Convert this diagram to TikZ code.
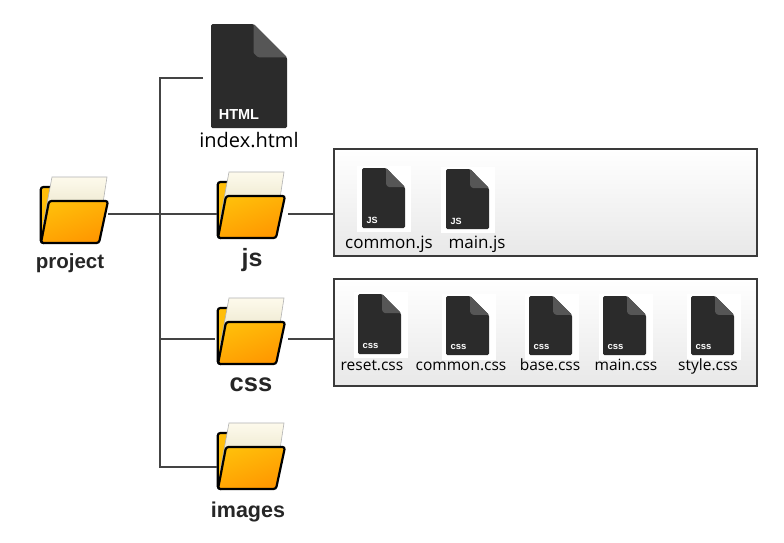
\documentclass[tikz,border=0pt]{standalone}
\usepackage{fontspec}
\setmainfont{Liberation Sans}
\newfontfamily\labelfont{Open Sans}
\definecolor{iconA}{HTML}{2B2B2B}
\definecolor{iconB}{HTML}{565656}
\definecolor{lineC}{HTML}{444444}
\definecolor{boxE}{HTML}{3A3A3A}
\definecolor{folderA}{HTML}{FFBE0A}
\definecolor{folderB}{HTML}{FF9700}
\definecolor{paperA}{HTML}{FDFAEC}
\definecolor{paperB}{HTML}{E6DFC0}
\tikzset{
  conn/.style={draw=lineC,line width=1.4pt},
  groupbox/.style={draw=boxE,line width=1.8pt,top color=white,bottom color=black!9,inner sep=0pt,anchor=north west},
  anchorbox/.style={inner sep=0pt,outer sep=0pt,anchor=north west},
  foldername/.style={font=\bfseries\fontsize{#1}{#1}\selectfont,text=black!85,inner sep=0pt,anchor=base},
  filename/.style={font=\labelfont\fontsize{#1}{#1}\selectfont,inner sep=0pt,anchor=base},
}
% folder: name, x, y
\newcommand{\folderIcon}[3]{%
  \node[anchorbox,minimum width=68pt,minimum height=66pt] (#1) at (#2,#3) {};
  \begin{scope}[shift={(#2,#3)}]
    \fill[draw=black,line width=2.2pt,rounded corners=2.5pt,fill=folderA] (0.8,10) -- (14,10) -- (14,30) -- (6,66) -- (0.8,66) -- cycle;
    \shade[top color=paperA,bottom color=paperB,draw=black!30,line width=0.6pt]
       (12,0) -- (67,0) -- (63,26) -- (9,26) -- (3,48) -- cycle;
    \shade[top color=folderA,bottom color=folderB,shading angle=20,draw=black,line width=2.2pt,rounded corners=2.5pt]
       (9,24) -- (68,24) -- (59,66) -- (1,66) -- cycle;
  \end{scope}}
% file icon: name, x, y, w, h, tag, tag size
\newcommand{\fileIcon}[7]{%
  \node[anchorbox,minimum width=#4pt,minimum height=#5pt] (#1) at (#2,#3) {};
  \begin{scope}[shift={(#2,#3)},x=#4pt/100,y=-#5pt/100]
    \fill[iconA,rounded corners=1.5pt] (0,0) -- (56,0) -- (100,32) -- (100,100) -- (0,100) -- cycle;
    \fill[iconB,rounded corners=1pt] (56,0) -- (100,32) -- (62,32) -- (56,28) -- cycle;
    \node[font=\bfseries\fontsize{#7}{#7}\selectfont,text=white,inner sep=0pt,anchor=west] at (10,87) {#6};
  \end{scope}}
\begin{document}
\begin{tikzpicture}[x=1pt,y=-1pt]
\useasboundingbox (0,0) rectangle (784,542);
\fill[white] (0,0) rectangle (784,542);
% groups
\node[groupbox,minimum width=423pt,minimum height=107pt] (jsbox) at (333,148) {};
\node[groupbox,minimum width=423pt,minimum height=107pt] (cssbox) at (333,278) {};
% white patches behind small icons
\foreach \px/\py/\pw/\ph in {357/166/54/66,441/167/54/66,354/292/54/66,442/294/54/66,525/294/54/66,599/294/54/66,687/294/54/66}
  \fill[white] (\px,\py) rectangle ++(\pw,\ph);
% folders
\folderIcon{project}{40}{177}
\folderIcon{js}{217}{172}
\folderIcon{css}{217}{298}
\folderIcon{images}{217}{423}
% html
\fileIcon{html}{211}{24}{76}{104}{HTML}{14.5}
\node[filename=20] (htmllabel) at (249,147) {index.html};
% js
\fileIcon{commonjs}{362}{168}{43}{60}{JS}{9}
\fileIcon{mainjs}{446}{169}{43}{60}{JS}{9}
\node[filename=17] (commonjslabel) at (389,248) {common.js};
\node[filename=17] (mainjslabel) at (477,248) {main.js};
% css
\fileIcon{resetcss}{358}{294}{43}{60}{css}{9.5}
\fileIcon{commoncss}{446}{296}{43}{59}{css}{9.5}
\fileIcon{basecss}{529}{296}{43}{59}{css}{9.5}
\fileIcon{maincss}{603}{296}{43}{59}{css}{9.5}
\fileIcon{stylecss}{691}{296}{43}{59}{css}{9.5}
\node[filename=15.5] (resetlabel) at (372,370) {reset.css};
\node[filename=15.5] (commoncsslabel) at (461,370) {common.css};
\node[filename=15.5] (baselabel) at (550,370) {base.css};
\node[filename=15.5] (mainlabel) at (626,370) {main.css};
\node[filename=15.5] (stylelabel) at (708,370) {style.css};
% names
\node[foldername=20.5] (projectlabel) at (70,268) {project};
\node[foldername=25] (jslabel) at (252,266) {js};
\node[foldername=25.5] (csslabel) at (251,391) {css};
\node[foldername=21.5] (imageslabel) at (248,517) {images};
% connectors
\coordinate (trunkT) at (160,78);
\coordinate (trunkB) at (160,467);
\coordinate (rowJ) at (160,214);
\coordinate (rowC) at (160,339);
\draw[conn] ([xshift=-8pt]html.west |- trunkT) -- (trunkT) -- (trunkB) -- (images.west |- trunkB);
\draw[conn] (rowC) -- ([xshift=-2pt]css.west |- rowC);
\draw[conn] (project.east |- rowJ) -- (js.west |- rowJ);
\draw[conn] ([xshift=3pt]js.east |- rowJ) -- (jsbox.west |- rowJ);
\draw[conn] ([xshift=3pt]css.east |- rowC) -- (cssbox.west |- rowC);
\end{tikzpicture}
\end{document}
